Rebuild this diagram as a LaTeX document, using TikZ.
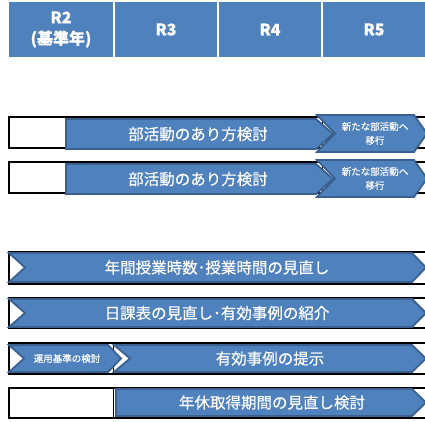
\documentclass[tikz,border=0pt]{standalone}
\usepackage{fontspec}
\setmainfont{Noto Sans CJK JP}[FakeBold=0.6]
\newfontfamily\jpreg{Noto Sans CJK JP}[FakeBold=0.4]
\definecolor{barblue}{HTML}{4F81BD}
\definecolor{baredge}{HTML}{3A6090}
\begin{document}
\begin{tikzpicture}[line join=miter,x=1pt,y=-1pt,
  hdr/.style={fill=barblue},
  hdrtext/.style={text=white,font=\bfseries\fontsize{16}{21}\selectfont,align=center,inner sep=0pt},
  cell/.style={draw=black,line width=1.8pt},
  grid/.style={draw=black,line width=0.8pt},
  bar/.style={fill=barblue,draw=baredge,line width=1.8pt},
  lbl/.style={text=white,font=\jpreg\fontsize{15.5}{15}\selectfont,inner sep=0pt},
  small/.style={text=white,font=\jpreg\fontsize{9.5}{14}\selectfont,align=center,inner sep=0pt}]
\useasboundingbox (0,0) rectangle (425,421);
\clip (0,0) rectangle (425,421);
% header
\foreach \a/\b in {9/113,115/217,219/321,323/425}
  \fill[hdr] (\a,2) rectangle (\b,57);
\node[hdrtext] (r2) at (61,29.5) {R2\\(基準年)};
\node[hdrtext] (r3) at (166,29.5) {R3};
\node[hdrtext] (r4) at (270,29.5) {R4};
\node[hdrtext] (r5) at (374,29.5) {R5};
% table rows
\foreach \t/\u in {117/148,162/193,252/284,298/328,343/374,388/418}{
  \foreach \c in {113,218,322}
    \draw[grid] (\c,\t) -- (\c,\u);
  \draw[cell] (430,\t) -- (9,\t) -- (9,\u) -- (430,\u);
}
% bukatsudo
\foreach \t [count=\i] in {119,164}{
  \draw[bar] (66,\t) -- (316,\t) -- (333,\t+15) -- (316,\t+30) -- (66,\t+30) -- cycle;
  \draw[bar] (317,\t-4) -- (414,\t-4) -- (427,\t+14.5) -- (414,\t+33) -- (317,\t+33) -- (335,\t+14.5) -- cycle;
  \node[lbl] (bk\i) at (198,\t+15) {部活動のあり方検討};
  \node[small] (ik\i) at (375,\t+14.5) {新たな部活動へ\\移行};
}
% jisu, nikka
\draw[bar] (9,253) -- (412,253) -- (426,267.5) -- (412,282) -- (9,282) -- (25,267.5) -- cycle;
\node[lbl] (jisu) at (217,267.5) {年間授業時数･授業時間の見直し};
\draw[bar] (9,299) -- (412,299) -- (426,313) -- (412,327) -- (9,327) -- (25,313) -- cycle;
\node[lbl] (nikka) at (217,313) {日課表の見直し･有効事例の紹介};
% unyo
\draw[bar] (9,345) -- (108,345) -- (121,358.5) -- (108,372) -- (9,372) -- (24,358.5) -- cycle;
\node[small] (unyo) at (67,358.5) {運用基準の検討};
\draw[bar] (114,345) -- (412,345) -- (426,358.5) -- (412,372) -- (114,372) -- (130,358.5) -- cycle;
\node[lbl] (jirei) at (270,358.5) {有効事例の提示};
% nenkyu
\draw[bar] (116,389) -- (412,389) -- (426,402.5) -- (412,416) -- (116,416) -- cycle;
\node[lbl] (nenkyu) at (272,402.5) {年休取得期間の見直し検討};
\end{tikzpicture}
\end{document}
